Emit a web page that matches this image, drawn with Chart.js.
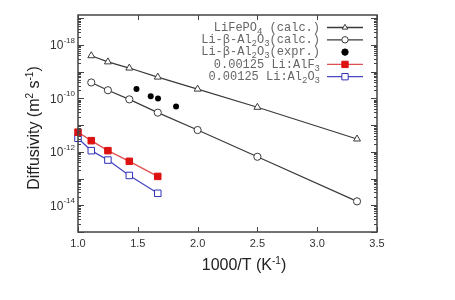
<!DOCTYPE html>
<html>
<head>
<meta charset="utf-8">
<script src="https://cdn.jsdelivr.net/npm/chart.js@4"></script>
<style>
  html, body { margin: 0; padding: 0; background: #fff; }
  #wrap { width: 455px; height: 300px; }
</style>
</head>
<body>
<div id="wrap"><canvas id="c" width="455" height="300"></canvas></div>
<script>
// values (x = 1000/T, y = diffusivity)
var lfpX = [1.111, 1.25, 1.429, 1.667, 2.0, 2.5, 3.333];
var lfpY = [3.9e-9, 2.3e-9, 1.35e-9, 6.2e-10, 2.2e-10, 4.6e-11, 3.0e-12];

var balX = [1.111, 1.25, 1.429, 1.667, 2.0, 2.5, 3.333];
var balY = [3.9e-10, 2.0e-10, 9.1e-11, 2.9e-11, 6.5e-12, 6.5e-13, 1.4e-14];

var expX = [1.489, 1.608, 1.669, 1.82];
var expY = [2.2e-10, 1.2e-10, 9.8e-11, 4.9e-11];

var alfX = [1.0, 1.111, 1.25, 1.429, 1.667];
var alfY = [5.4e-12, 2.6e-12, 1.1e-12, 4.4e-13, 1.2e-13];

var aloX = [1.0, 1.111, 1.25, 1.429, 1.667];
var aloY = [3.2e-12, 1.1e-12, 4.9e-13, 1.3e-13, 2.8e-14];

var xTicks = [1.0, 1.5, 2.0, 2.5, 3.0, 3.5];
var xTickLabels = ['1.0', '1.5', '2.0', '2.5', '3.0', '3.5'];
var yTicks = [1e-8, 1e-10, 1e-12, 1e-14];
var yTickExps = ['-18', '-10', '-12', '-14'];

// legend labels, pieces marked 1 are subscripts
var legendLabels = [
  [['LiFePO', 0], ['4', 1], [' (calc.)', 0]],
  [['Li-', 0], ['\u03b2', 0], ['-Al', 0], ['2', 1], ['O', 0], ['3', 1], ['(calc.)', 0]],
  [['Li-', 0], ['\u03b2', 0], ['-Al', 0], ['2', 1], ['O', 0], ['3', 1], ['(expr.)', 0]],
  [['0.00125 Li:AlF', 0], ['3', 1]],
  [['0.00125 Li:Al', 0], ['2', 1], ['O', 0], ['3', 1]]
];

function pts(xs, ys) {
  return xs.map(function (x, i) { return { x: x, y: ys[i] }; });
}

var dark = '#3a3a3a';

var datasets = [
  { data: pts(lfpX, lfpY), showLine: true, borderColor: dark, borderWidth: 1.2,
    pointStyle: 'triangle', pointRadius: 4, pointBorderColor: dark, pointBackgroundColor: '#fff', pointBorderWidth: 1 },
  { data: pts(balX, balY), showLine: true, borderColor: dark, borderWidth: 1.2,
    pointStyle: 'circle', pointRadius: 3.6, pointBorderColor: dark, pointBackgroundColor: '#fff', pointBorderWidth: 1 },
  { data: pts(expX, expY), showLine: false, borderColor: '#000',
    pointStyle: 'circle', pointRadius: 3, pointBorderColor: '#000', pointBackgroundColor: '#000', pointBorderWidth: 0 },
  { data: pts(alfX, alfY), showLine: true, borderColor: '#e05050', borderWidth: 1.3,
    pointStyle: 'rect', pointRadius: 4.6, pointBorderColor: '#dd1111', pointBackgroundColor: '#dd1111', pointBorderWidth: 1 },
  { data: pts(aloX, aloY), showLine: true, borderColor: '#4848c0', borderWidth: 1.3,
    pointStyle: 'rect', pointRadius: 4.6, pointBorderColor: '#3030b8', pointBackgroundColor: '#fff', pointBorderWidth: 1 }
];
datasets.forEach(function (d) { d.clip = false; });

var framePlugin = {
  id: 'frame',
  afterDraw: function (chart) {
    var ctx = chart.ctx, a = chart.chartArea;
    var xs = chart.scales.x, ys = chart.scales.y;
    ctx.save();
    ctx.strokeStyle = '#444';
    ctx.lineWidth = 1.5;
    ctx.strokeRect(a.left, a.top, a.right - a.left, a.bottom - a.top);

    // y log ticks, inward on both sides
    ctx.lineWidth = 1;
    for (var e = -15; e <= -7; e++) {
      for (var m = 1; m <= 9; m++) {
        var v = m * Math.pow(10, e);
        if (v < ys.min || v > ys.max) continue;
        var py = Math.round(ys.getPixelForValue(v)) + 0.5;
        var len = m === 1 ? 6 : 3;
        ctx.beginPath();
        ctx.moveTo(a.left, py); ctx.lineTo(a.left + len, py);
        ctx.moveTo(a.right, py); ctx.lineTo(a.right - len, py);
        ctx.stroke();
      }
    }
    // x ticks
    xTicks.forEach(function (t) {
      var px = Math.round(xs.getPixelForValue(t)) + 0.5;
      ctx.beginPath();
      ctx.moveTo(px, a.bottom); ctx.lineTo(px, a.bottom - 5);
      ctx.moveTo(px, a.top); ctx.lineTo(px, a.top + 5);
      ctx.stroke();
    });

    // tick labels
    ctx.fillStyle = '#333';
    ctx.font = '11px "Liberation Sans", Arial, sans-serif';
    ctx.textAlign = 'center';
    ctx.textBaseline = 'top';
    xTicks.forEach(function (t, i) {
      ctx.fillText(xTickLabels[i], xs.getPixelForValue(t), a.bottom + 6);
    });
    yTicks.forEach(function (t, i) {
      var py = ys.getPixelForValue(t);
      ctx.font = '8px "Liberation Sans", Arial, sans-serif';
      var we = ctx.measureText(yTickExps[i]).width;
      ctx.textAlign = 'right';
      ctx.textBaseline = 'middle';
      ctx.fillText(yTickExps[i], a.left - 3, py - 4);
      ctx.font = '12px "Liberation Sans", Arial, sans-serif';
      ctx.fillText('10', a.left - 3 - we, py + 1);
    });

    // axis titles
    ctx.fillStyle = '#222';
    function drawParts(parts, x, y, size) {
      parts.forEach(function (p) {
        ctx.font = (p[1] ? Math.round(size * 0.62) : size) + 'px "Liberation Sans", Arial, sans-serif';
        ctx.fillText(p[0], x, p[1] ? y - size * 0.38 : y);
        x += ctx.measureText(p[0]).width;
      });
    }
    function partsWidth(parts, size) {
      var w = 0;
      parts.forEach(function (p) {
        ctx.font = (p[1] ? Math.round(size * 0.62) : size) + 'px "Liberation Sans", Arial, sans-serif';
        w += ctx.measureText(p[0]).width;
      });
      return w;
    }
    ctx.textAlign = 'left';
    ctx.textBaseline = 'alphabetic';
    var xTitle = [['1000/T (K', 0], ['-1', 1], [')', 0]];
    var wx = partsWidth(xTitle, 16);
    drawParts(xTitle, 244 - wx / 2, 270, 16);

    var yTitle = [['Diffusivity (m', 0], ['2', 1], [' s', 0], ['-1', 1], [')', 0]];
    var wy = partsWidth(yTitle, 16);
    ctx.save();
    ctx.translate(39, 128);
    ctx.rotate(-Math.PI / 2);
    drawParts(yTitle, -wy / 2, 0, 16);
    ctx.restore();

    // legend
    var rowY = [27.5, 39.8, 52.1, 64.4, 76.7];
    var textRight = 320, lineL = 327, lineR = 363;
    legendLabels.forEach(function (parts, i) {
      var size = 12;
      var w = 0;
      parts.forEach(function (p) {
        ctx.font = (p[1] ? 9 : size) + 'px "Liberation Mono", "Courier New", monospace';
        w += ctx.measureText(p[0]).width;
      });
      var x = textRight - w;
      ctx.fillStyle = '#666';
      ctx.textBaseline = 'middle';
      parts.forEach(function (p) {
        ctx.font = (p[1] ? 9 : size) + 'px "Liberation Mono", "Courier New", monospace';
        ctx.fillText(p[0], x, p[1] ? rowY[i] + 4 : rowY[i]);
        x += ctx.measureText(p[0]).width;
      });
      var ds = chart.data.datasets[i];
      var cx = (lineL + lineR) / 2;
      if (ds.showLine) {
        ctx.strokeStyle = ds.borderColor;
        ctx.lineWidth = 1.3;
        ctx.beginPath();
        ctx.moveTo(lineL, rowY[i]); ctx.lineTo(lineR, rowY[i]);
        ctx.stroke();
      }
      ctx.strokeStyle = ds.pointBorderColor;
      ctx.fillStyle = ds.pointBackgroundColor;
      ctx.lineWidth = 1;
      Chart.helpers.drawPoint(ctx, {
        pointStyle: ds.pointStyle,
        radius: ds.pointStyle === 'rect' ? 4.5 : 3.2,
        borderWidth: ds.pointBorderWidth || 0.01,
        rotation: 0
      }, cx, rowY[i]);
    });
    ctx.restore();
  }
};

new Chart(document.getElementById('c'), {
  type: 'scatter',
  data: { datasets: datasets },
  options: {
    responsive: false,
    animation: false,
    layout: { padding: { left: 78, top: 15, right: 78, bottom: 68 } },
    scales: {
      x: { type: 'linear', min: 1.0, max: 3.5, display: false },
      y: { type: 'logarithmic', min: 1e-15, max: 1.3e-7, display: false }
    },
    plugins: { legend: { display: false }, tooltip: { enabled: false } }
  },
  plugins: [framePlugin]
});
</script>
</body>
</html>
